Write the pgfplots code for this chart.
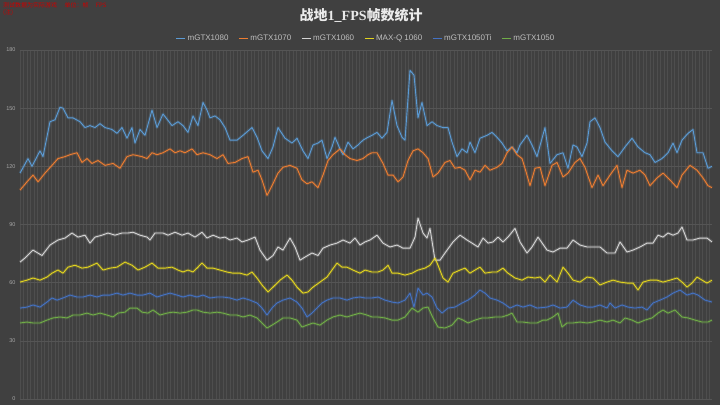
\documentclass[border=0pt]{standalone}
\usepackage{fontspec}
\setmainfont{Liberation Sans}
\newfontfamily\cjk{Noto Sans CJK SC}
\newfontfamily\serifl{Liberation Serif}
\usepackage{pgfplots}
\pgfplotsset{compat=1.18}
\definecolor{bg}{HTML}{404040}
\definecolor{gridc}{HTML}{4E4E4E}
\definecolor{hgridc}{HTML}{555555}
\definecolor{tickc}{HTML}{A6A6A6}
\definecolor{legc}{HTML}{BFBFBF}
\definecolor{cA}{HTML}{5B9BD5}
\definecolor{cB}{HTML}{ED7D31}
\definecolor{cC}{HTML}{D4D4D4}
\definecolor{cD}{HTML}{E2D41E}
\definecolor{cE}{HTML}{4472C4}
\definecolor{cF}{HTML}{70AD47}
\pgfplotstableread{
x y
20 116.5
28 124
32 120
40 128
43 125
50 143
55 144
60 150.5
63 150
68 145
73 145
80 143
85 140
90 141
95 140
100 142
105 140
112 139
117 137
122 140
127 134.5
132 140
135 132
140 139
145 136
152 149
157 140
163 147
172 141
178 143
183 141
188 137.5
193 146
198 141
203 153
207 149
210 145
215 146
220 144
225 140
230 133.5
237 133.5
243 136
252 140
257 135
262 128
268 124
273 130
278 140
285 134.5
292 132
297 134.5
303 128
308 124
313 131
318 132
322 133.5
327 124
332 130
335 135
340 129
343 126
348 132.5
353 129
358 131
363 133.5
368 135
372 136
377 137.5
382 134.5
387 137.5
392 154
397 141
402 135
405 133.5
410 169.5
414 167
418 145
422 153
427 141
432 143
437 141
443 140
448 140
452 132.5
457 125
462 129
467 127
470 132.5
475 127
480 134.5
487 136
492 137.5
497 135
502 132
507 128
512 130
517 127
520 131
527 136
532 131
537 125
545 140
550 121.5
557 126
563 127
568 119
573 131
577 130
582 125
587 132
590 143
595 145
600 140
605 132.5
612 128
618 125
625 130
632 134.5
638 130
645 127
650 126
655 122
662 124
668 127
673 132
677 127
682 133.5
688 137
693 139
697 127
703 127
708 119
712 120
}\tA
\pgfplotstableread{
x y
20 107.7
27 112
33 115.5
38 112
45 116.5
52 120.5
58 124
65 125
70 126
77 127
82 122
87 124
92 121.5
98 123
105 120.5
113 121.5
120 119
127 125
133 126
142 125
147 124
152 127
157 126
163 127
170 129
175 127
180 128
185 127
192 129
197 126
203 127
210 126
217 124
223 126
228 121.5
235 122
242 124
248 125
253 117
258 118
262 113
267 105
272 110
278 116.5
283 119.5
290 120.5
297 119
302 113
307 111
312 112
318 109
323 115.5
328 123
333 126
340 129
345 126
350 124
357 123
363 124
368 126
372 127
377 127
383 121.5
388 115.5
393 115.5
398 112
403 114.5
408 123
413 128
418 129
423 127
428 124
433 114.5
438 116.5
445 122
450 123
455 119
460 119.5
465 118
470 113
475 118
480 117
485 120.5
490 118
497 119.5
502 121.5
507 127
512 130
517 126
522 124
525 119
530 110
535 119
540 119.5
545 110
552 120.5
557 122
563 114.5
568 116.5
575 122
580 124
585 119.5
592 109
598 115.5
603 110
610 115.5
617 120.5
622 109
627 118
633 116.5
640 118
645 115.5
650 110
657 114
663 116.5
670 113
677 109
682 115.5
690 120.5
697 118
703 114
708 110
712 109
}\tB
\pgfplotstableread{
x y
20 70.6
25 72.7
33 76.8
42 74
50 79.4
58 82
65 83
72 85.6
78 83.5
85 84.5
90 80.4
95 83.5
102 84.5
108 85.6
115 84.5
122 85.6
128 85.6
133 86
140 84.5
147 83.5
150 82
155 85.6
163 85.6
168 84.5
175 86
182 84.5
188 85.6
195 83.5
202 86
207 83
213 84.5
220 83
225 83.5
230 82
237 83
242 81
248 82
255 83.5
260 76.8
267 71.6
273 74
278 78.4
283 76.8
290 83
295 78.4
300 71.6
305 73.2
312 75.3
318 74
323 77.8
330 79.4
337 80.4
343 82
350 80.4
355 83
360 79.4
365 81
370 82
377 84.5
383 80.4
390 78.4
397 79.4
403 77.8
410 77.8
415 83.5
418 93.3
423 85.6
427 83
430 88
435 71.6
440 71.6
445 75.3
453 81
460 84.5
467 82
472 80.4
478 78.4
483 83
488 80.4
493 81
498 83.5
503 81
508 83.5
515 88
520 81
527 75.3
532 78.4
538 83.5
547 76.8
553 75.8
560 77.8
567 77.8
573 82
580 79.4
587 78.4
593 78.4
600 78.4
607 75.3
615 75.3
620 81
627 75.8
633 76.8
640 78.4
647 80.4
653 80.4
658 84.5
663 83.5
668 85.6
673 84.5
678 85.6
682 88.7
687 82
693 82
700 83
707 83
712 81
}\tC
\pgfplotstableread{
x y
20 60.3
27 61.3
33 62.4
40 61.3
47 62.9
52 64.9
58 66.5
63 64.9
68 68
75 69
82 67.5
88 68
97 70.1
103 66.5
110 67.5
117 68
125 70.6
132 69
138 66.5
145 68
152 70.1
158 67.5
165 67.5
172 68
178 66.5
183 65.5
188 66.5
193 65.5
197 67.5
202 70.1
207 67.5
213 67.5
220 66.5
227 65.5
233 64.9
240 64.9
247 63.9
252 65.5
257 62.4
262 58.8
268 55.2
273 57.7
280 61.3
287 63.9
292 61.3
297 57.7
303 54.6
308 55.2
313 57.7
320 60.3
327 62.9
332 66.5
337 70.1
342 68
347 68
353 66.5
360 64.9
365 66.5
372 65.5
378 65.5
383 66.5
388 69
392 64.9
398 64.9
405 63.9
412 64.9
418 66.5
425 67.5
430 69
435 72.7
438 69
443 62.4
448 60.3
453 64.9
460 66.5
465 67.5
470 64.9
475 66.5
480 68
485 64.9
492 65.5
497 65.5
503 67.5
508 64.9
515 62.4
522 61.3
528 62.9
535 62.4
540 62.9
545 60.3
550 63.9
557 60.3
563 68
568 64.9
573 61.3
580 60.3
587 62.9
593 62.4
600 58.8
607 60.3
613 61.3
620 60.3
627 59.8
633 59.8
638 56.2
643 60.3
650 61.3
657 61.3
663 60.3
670 61.3
677 62.4
682 60.3
687 57.7
692 59.8
697 62.9
702 61.3
707 59.8
712 61.3
}\tD
\pgfplotstableread{
x y
20 46.9
27 47.4
33 48.5
40 47.4
47 50
52 52.1
57 51
63 52.1
70 53.6
77 52.6
83 52.6
90 53.6
97 52.6
103 53.6
110 53.6
117 54.6
123 53.6
130 54.6
137 53.6
143 53.6
150 54.6
157 52.6
163 53.6
170 54.6
177 53.6
183 52.6
190 53.6
197 52.6
203 53.6
210 52.1
217 52.6
223 52.6
230 52.1
237 51
243 52.1
250 51
257 49.5
262 46.9
267 43.3
272 46.9
277 49.5
283 51
290 52.1
297 50
302 46.9
307 42.3
312 44.3
317 46.9
322 49.5
327 51
333 52.1
340 52.1
347 51
353 52.1
360 52.6
365 52.1
372 52.1
378 52.6
385 51
392 50
398 49.5
405 51
410 54.6
414 47.4
418 57.2
423 53.6
427 54.6
432 52.6
437 46.9
442 44.3
448 46.9
455 47.4
462 49.5
468 51
475 53.6
480 56.2
485 54.6
490 52.1
497 51
503 49.5
510 46.9
517 48.5
523 47.4
530 48.5
537 46.9
547 47.4
553 48.5
560 46.9
567 47.4
573 51
580 48.5
587 47.4
593 47.4
600 48.5
607 46.9
610 49.5
615 46.9
622 48.5
628 47.4
635 46.9
642 47.4
647 45.9
653 49.5
660 51
667 52.6
673 54.6
680 56.2
687 53.6
693 54.6
698 53.6
705 51
712 50
}\tE
\pgfplotstableread{
x y
20 39.2
27 39.7
33 39.2
40 39.2
47 40.7
53 41.8
60 42.3
67 41.8
73 43.3
80 43.3
87 44.3
93 43.3
100 44.3
107 43.3
113 42.3
118 44.3
125 44.8
130 46.9
137 46.9
142 44.8
148 44.3
153 45.9
160 43.3
167 44.3
173 44.8
180 44.3
187 44.8
193 45.9
197 45.9
203 44.8
210 44.3
217 44.8
223 44.3
230 43.3
237 43.3
243 42.3
250 43.3
257 41.8
262 39.2
267 36.6
272 38.1
277 39.7
283 41.8
290 41.8
297 40.7
302 37.1
307 38.1
313 39.2
320 38.1
327 40.7
333 42.3
340 43.3
347 42.3
353 43.3
360 44.3
367 43.3
372 42.3
378 42.3
385 41.8
392 40.7
398 40.7
405 42.3
412 46.9
418 44.8
423 46.9
428 47.4
433 41.8
438 37.1
445 36.6
452 38.1
458 41.8
463 40.7
468 39.2
475 40.7
482 41.8
488 41.8
495 42.3
502 42.3
508 43.3
512 44.3
517 39.7
523 39.7
530 39.2
537 39.2
543 40.7
547 40.7
553 42.3
558 44.3
562 37.1
567 39.2
573 39.2
580 39.7
587 39.2
593 39.7
600 40.7
607 39.7
613 40.7
620 39.2
625 41.8
632 40.7
638 39.2
645 40.7
652 41.8
658 44.3
663 45.9
668 44.3
675 45.9
682 42.3
688 41.8
695 40.7
702 39.7
708 39.7
712 40.7
}\tF
\begin{document}
\begin{tikzpicture}[x=1pt,y=1pt]
\fill[bg] (0,0) rectangle (720,405);
\node[anchor=north west, text=red!80!black, font=\cjk\fontsize{6}{7.5}\selectfont, align=left, inner sep=0pt] at (3,403) {测试数据为实际游戏 \quad 单位：帧 \quad FPS\\(注)};
\begin{axis}[
  at={(20pt,6pt)}, anchor=south west,
  scale only axis, width=692pt, height=349pt,
  xmin=20, xmax=712, ymin=0, ymax=180,
  ytick={0,30,...,180},
  xtick={20,23.5,...,712}, xticklabels={},
  xmajorgrids, ymajorgrids,
  x grid style={draw=gridc, line width=0.4pt},
  y grid style={draw=hgridc, line width=0.5pt},
  axis line style={draw=none},
  tick style={draw=none},
  yticklabel style={font=\fontsize{5.5}{6}\selectfont, text=tickc, xshift=-1pt},
  /pgf/number format/assume math mode=true,
  clip=false,
  legend columns=6,
  legend style={at={(0.5,1.034)}, anchor=center, draw=none, fill=none,
    text=legc, font=\fontsize{8}{9}\selectfont,
    /tikz/every even column/.append style={column sep=8pt}},
  legend image code/.code={\draw[line width=0.9pt,#1] (0pt,0pt) -- (9pt,0pt);},
  every axis plot/.append style={line join=round},
]
\addplot[cA, line width=3pt, opacity=0.2, forget plot] table {\tA};
\addplot[cB, line width=3pt, opacity=0.2, forget plot] table {\tB};
\addplot[cC, line width=3pt, opacity=0.2, forget plot] table {\tC};
\addplot[cD, line width=3pt, opacity=0.2, forget plot] table {\tD};
\addplot[cE, line width=3pt, opacity=0.2, forget plot] table {\tE};
\addplot[cF, line width=3pt, opacity=0.2, forget plot] table {\tF};
\addplot[cA, line width=0.9pt] table {\tA};
\addlegendentry{mGTX1080}
\addplot[cB, line width=0.9pt] table {\tB};
\addlegendentry{mGTX1070}
\addplot[cC, line width=0.9pt] table {\tC};
\addlegendentry{mGTX1060}
\addplot[cD, line width=0.9pt] table {\tD};
\addlegendentry{MAX-Q 1060}
\addplot[cE, line width=0.9pt] table {\tE};
\addlegendentry{mGTX1050Ti}
\addplot[cF, line width=0.9pt] table {\tF};
\addlegendentry{mGTX1050}
\node[font=\bfseries\fontsize{14}{16}\selectfont, text=white!92!black] at (rel axis cs:0.493,1.100) {{\cjk 战地}{\serifl 1\_FPS}{\cjk 帧数统计}};
\end{axis}
\end{tikzpicture}
\end{document}
